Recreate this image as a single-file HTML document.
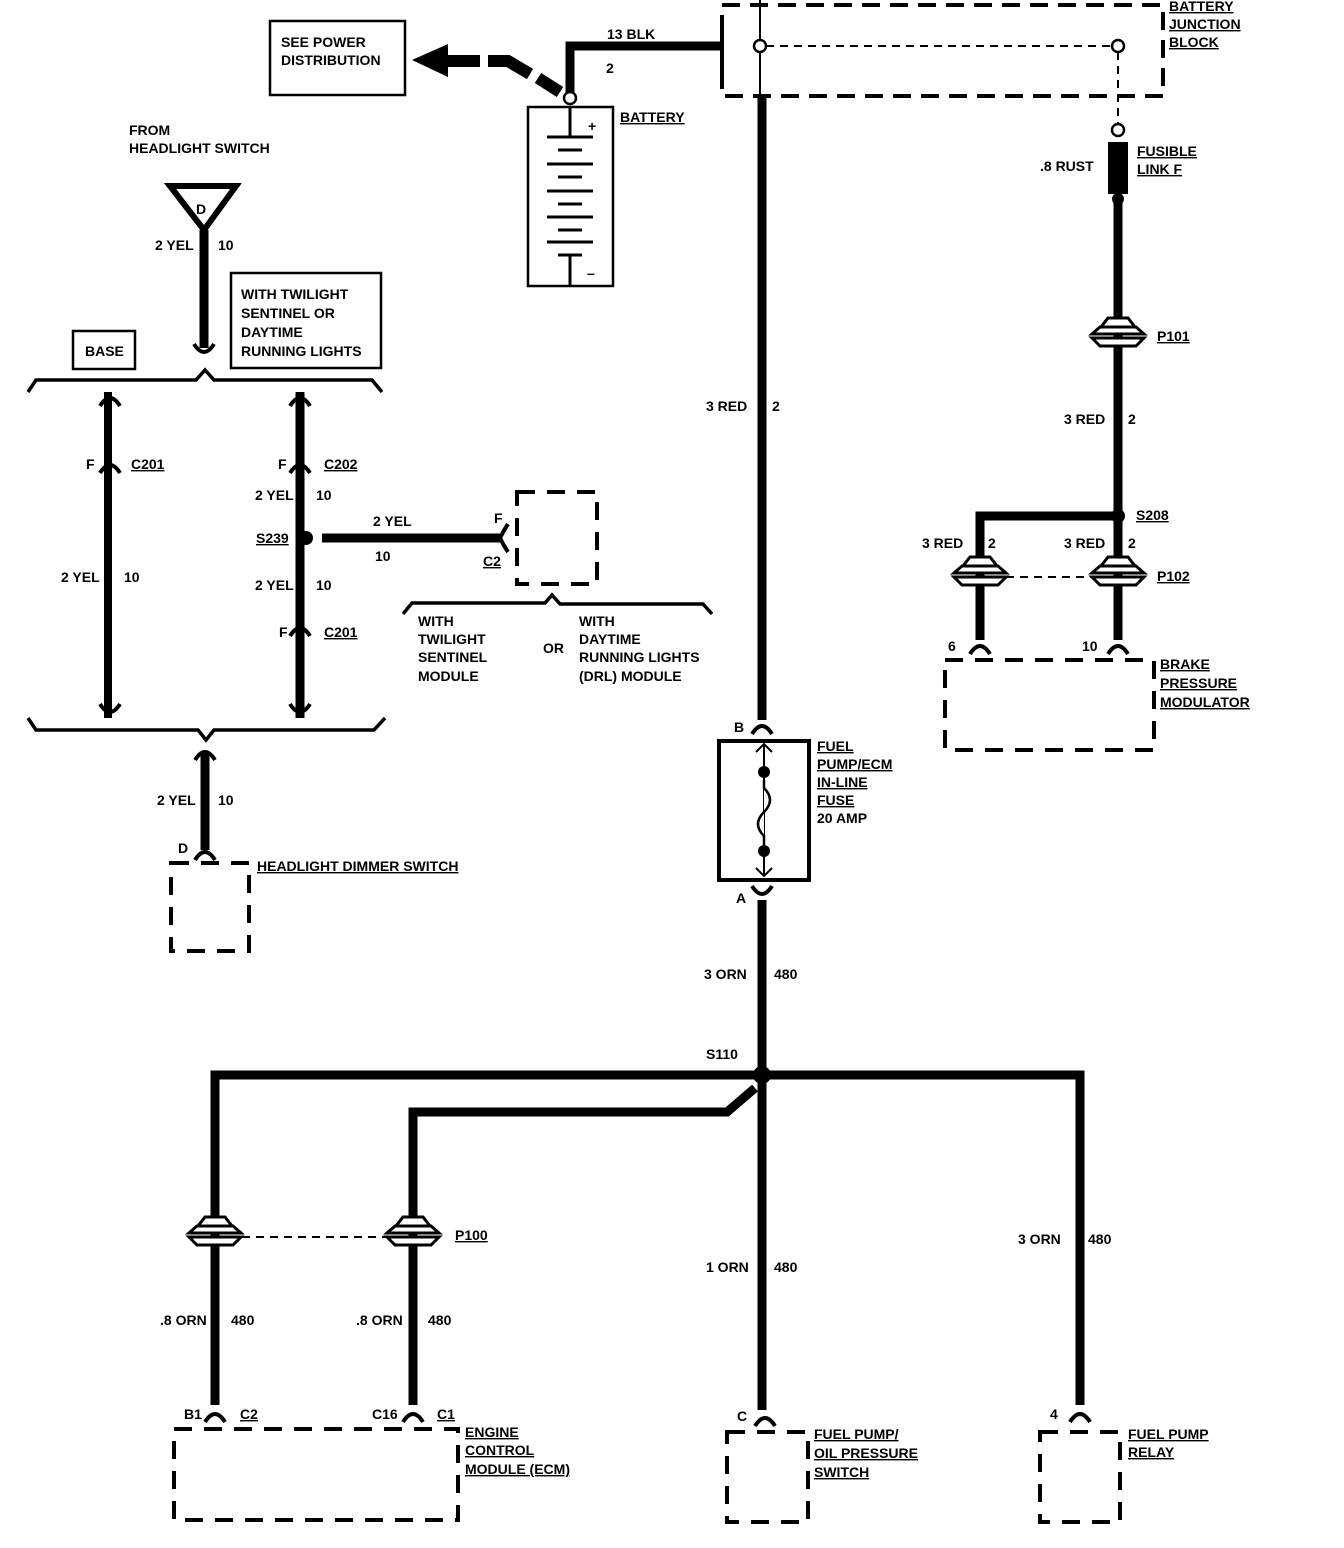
<!DOCTYPE html>
<html><head><meta charset="utf-8"><style>
html,body{margin:0;padding:0;background:#fff}
svg{display:block}
text{font-family:"Liberation Sans Narrow","Liberation Sans",sans-serif;font-weight:bold;font-size:14px;fill:#000}
.u{text-decoration:underline}
</style></head><body>
<svg width="1344" height="1548" viewBox="0 0 1344 1548" xmlns="http://www.w3.org/2000/svg">
<defs>
<g id="pc">
<path d="M-17,-9 L-10,-18 L10,-18 L17,-9 Z M-26,-2 L-18,-9 L18,-9 L26,-2 Z M-26,2 L-18,10 L18,10 L26,2 Z" fill="#fff" stroke="#000" stroke-width="3"/>
</g>
<path id="cu" d="M-10,8 Q0,-8 10,8" fill="none" stroke="#000" stroke-width="4"/>
<path id="cd" d="M-10,-8 Q0,8 10,-8" fill="none" stroke="#000" stroke-width="4"/>
</defs>
<g fill="none" stroke="#000">
<rect x="270" y="21" width="135" height="74" stroke-width="2.5"/>
<polygon points="412,60 448,44 448,77" fill="#000" stroke="none"/>
<line x1="446" y1="61" x2="480" y2="61" stroke-width="12"/>
<path d="M488,61 L508,61 L530,74" stroke-width="12"/>
<line x1="538" y1="78" x2="560" y2="92" stroke-width="12"/>
<path d="M570,98 L570,46 L722,46" stroke-width="9"/>
<circle cx="570" cy="98" r="6" fill="#fff" stroke-width="2.5"/>
<rect x="528" y="107" width="85" height="179" stroke-width="2.5"/>
<line x1="570" y1="107" x2="570" y2="137" stroke-width="3"/>
<g stroke-width="3">
<line x1="547" y1="137" x2="593" y2="137"/><line x1="558" y1="150" x2="582" y2="150"/>
<line x1="547" y1="164" x2="593" y2="164"/><line x1="558" y1="177" x2="582" y2="177"/>
<line x1="547" y1="191" x2="593" y2="191"/><line x1="558" y1="204" x2="582" y2="204"/>
<line x1="547" y1="217" x2="593" y2="217"/><line x1="558" y1="230" x2="582" y2="230"/>
<line x1="547" y1="242" x2="593" y2="242"/><line x1="558" y1="255" x2="582" y2="255"/>
<line x1="570" y1="255" x2="570" y2="286"/>
</g>
<rect x="722" y="5" width="441" height="91" stroke-width="4" stroke-dasharray="18,10"/>
<line x1="722" y1="18" x2="722" y2="72" stroke-width="4"/>
<line x1="760" y1="0" x2="760" y2="96" stroke-width="2"/>
<line x1="766" y1="46" x2="1112" y2="46" stroke-width="2" stroke-dasharray="8,6"/>
<circle cx="760" cy="46" r="6" fill="#fff" stroke-width="2.5"/>
<circle cx="1118" cy="46" r="6" fill="#fff" stroke-width="2.5"/>
<line x1="1118" y1="52" x2="1118" y2="124" stroke-width="2" stroke-dasharray="8,6"/>
<circle cx="1118" cy="130" r="6" fill="#fff" stroke-width="2.5"/>
<rect x="1108" y="142" width="20" height="52" fill="#000" stroke="none"/>
<circle cx="1118" cy="199" r="6" fill="#000" stroke="none"/>
<line x1="1118" y1="199" x2="1118" y2="516" stroke-width="9"/>
<circle cx="1118" cy="516" r="7" fill="#000" stroke="none"/>
<path d="M1118,516 L980,516 L980,640" stroke-width="9"/>
<line x1="1118" y1="516" x2="1118" y2="640" stroke-width="9"/>
<line x1="1006" y1="577" x2="1092" y2="577" stroke-width="2" stroke-dasharray="8,6"/>
<rect x="945" y="660" width="209" height="90" stroke-width="4" stroke-dasharray="18,12"/>
<line x1="762" y1="96" x2="762" y2="720" stroke-width="9"/>
<rect x="719" y="741" width="90" height="139" stroke-width="4"/>
<line x1="764" y1="745" x2="764" y2="876" stroke-width="2"/>
<path d="M756,752 L764,744 L772,752 M756,868 L764,876 L772,868" stroke-width="2"/>
<circle cx="764" cy="772" r="6" fill="#000" stroke="none"/>
<circle cx="764" cy="851" r="6" fill="#000" stroke="none"/>
<path d="M764,780 L764,788 Q776,800 764,812 Q752,824 764,836 L764,845" fill="#fff" stroke-width="2.5"/>
<line x1="762" y1="900" x2="762" y2="1410" stroke-width="9"/>
<circle cx="762" cy="1075" r="9" fill="#000" stroke="none"/>
<path d="M215,1405 L215,1075 L1080,1075 L1080,1405" stroke-width="9"/>
<path d="M755,1088 L727,1112 L413,1112 L413,1405" stroke-width="9"/>
<line x1="242" y1="1237" x2="386" y2="1237" stroke-width="2" stroke-dasharray="8,6"/>
<rect x="174" y="1429" width="284" height="91" stroke-width="4" stroke-dasharray="18,12"/>
<rect x="727" y="1432" width="81" height="90" stroke-width="4" stroke-dasharray="18,12"/>
<rect x="1040" y="1432" width="80" height="90" stroke-width="4" stroke-dasharray="18,12"/>
<polygon points="170,186 236,186 204,230" stroke-width="6" fill="#fff"/>
<line x1="204" y1="230" x2="204" y2="348" stroke-width="9"/>
<rect x="73" y="331" width="62" height="38" stroke-width="2.5"/>
<rect x="231" y="273" width="150" height="95" stroke-width="2.5"/>
<path d="M28,392 L36,380 L196,380 L205,370 L214,380 L372,380 L382,392" stroke-width="3.5"/>
<line x1="108" y1="392" x2="108" y2="718" stroke-width="8"/>
<line x1="300" y1="392" x2="300" y2="718" stroke-width="9"/>
<circle cx="306" cy="538" r="7" fill="#000" stroke="none"/>
<line x1="322" y1="538" x2="500" y2="538" stroke-width="9"/>
<path d="M500,538 Q504,530 508,524 M500,538 Q504,546 508,552" stroke-width="4"/>
<rect x="517" y="492" width="80" height="92" stroke-width="4" stroke-dasharray="18,12"/>
<path d="M403,614 L412,603 L545,603 L552,595 L560,604 L703,604 L712,614" stroke-width="3.5"/>
<path d="M28,718 L36,730 L198,730 L206,740 L214,730 L374,730 L385,718" stroke-width="3.5"/>
<line x1="205" y1="752" x2="205" y2="850" stroke-width="9"/>
<rect x="171" y="863" width="78" height="88" stroke-width="4" stroke-dasharray="18,12"/>
</g>
<use href="#cd" x="204" y="352"/>
<use href="#cu" x="110" y="398"/><use href="#cu" x="300" y="398"/>
<use href="#cu" x="110" y="465"/><use href="#cu" x="300" y="465"/><use href="#cu" x="300" y="628"/>
<use href="#cd" x="110" y="712"/><use href="#cd" x="300" y="712"/>
<use href="#cu" x="205" y="752"/><use href="#cu" x="205" y="852"/>
<use href="#cu" x="762" y="726"/><use href="#cd" x="762" y="894"/>
<use href="#cu" x="980" y="646"/><use href="#cu" x="1118" y="646"/>
<use href="#cu" x="215" y="1414"/><use href="#cu" x="413" y="1414"/><use href="#cu" x="765" y="1418"/><use href="#cu" x="1080" y="1414"/>
<use href="#pc" x="1118" y="336"/>
<use href="#pc" x="980" y="575"/><use href="#pc" x="1118" y="575"/>
<use href="#pc" x="215" y="1235"/><use href="#pc" x="413" y="1235"/>
<text x="281" y="47">SEE POWER</text><text x="281" y="65">DISTRIBUTION</text>
<text x="607" y="39">13 BLK</text><text x="606" y="73">2</text>
<text x="588" y="131" font-size="18">+</text><text x="587" y="278" font-size="18">–</text>
<text x="620" y="122" class="u">BATTERY</text>
<text x="1169" y="11" class="u">BATTERY</text><text x="1169" y="29" class="u">JUNCTION</text><text x="1169" y="47" class="u">BLOCK</text>
<text x="1137" y="156" class="u">FUSIBLE</text><text x="1137" y="174" class="u">LINK F</text>
<text x="1040" y="171">.8 RUST</text>
<text x="1157" y="341" class="u">P101</text>
<text x="1064" y="424">3 RED</text><text x="1128" y="424">2</text>
<text x="1136" y="520" class="u">S208</text>
<text x="922" y="548">3 RED</text><text x="988" y="548">2</text>
<text x="1064" y="548">3 RED</text><text x="1128" y="548">2</text>
<text x="1157" y="581" class="u">P102</text>
<text x="948" y="651">6</text><text x="1082" y="651">10</text>
<text x="1160" y="669" class="u">BRAKE</text><text x="1160" y="688" class="u">PRESSURE</text><text x="1160" y="707" class="u">MODULATOR</text>
<text x="706" y="411">3 RED</text><text x="772" y="411">2</text>
<text x="734" y="732">B</text><text x="736" y="903">A</text>
<text x="817" y="751" class="u">FUEL</text><text x="817" y="769" class="u">PUMP/ECM</text><text x="817" y="787" class="u">IN-LINE</text><text x="817" y="805" class="u">FUSE</text><text x="817" y="823">20 AMP</text>
<text x="704" y="979">3 ORN</text><text x="774" y="979">480</text>
<text x="706" y="1059">S110</text>
<text x="160" y="1325">.8 ORN</text><text x="231" y="1325">480</text>
<text x="356" y="1325">.8 ORN</text><text x="428" y="1325">480</text>
<text x="455" y="1240" class="u">P100</text>
<text x="706" y="1272">1 ORN</text><text x="774" y="1272">480</text>
<text x="1018" y="1244">3 ORN</text><text x="1088" y="1244">480</text>
<text x="184" y="1419">B1</text><text x="240" y="1419" class="u">C2</text>
<text x="372" y="1419">C16</text><text x="437" y="1419" class="u">C1</text>
<text x="737" y="1421">C</text><text x="1050" y="1419">4</text>
<text x="465" y="1437" class="u">ENGINE</text><text x="465" y="1455" class="u">CONTROL</text><text x="465" y="1474" class="u">MODULE (ECM)</text>
<text x="814" y="1439" class="u">FUEL PUMP/</text><text x="814" y="1458" class="u">OIL PRESSURE</text><text x="814" y="1477" class="u">SWITCH</text>
<text x="1128" y="1439" class="u">FUEL PUMP</text><text x="1128" y="1457" class="u">RELAY</text>
<text x="129" y="135">FROM</text><text x="129" y="153">HEADLIGHT SWITCH</text>
<text x="196" y="214" font-size="20">D</text>
<text x="155" y="250">2 YEL</text><text x="218" y="250">10</text>
<text x="85" y="356">BASE</text>
<text x="241" y="299">WITH TWILIGHT</text><text x="241" y="318">SENTINEL OR</text><text x="241" y="337">DAYTIME</text><text x="241" y="356">RUNNING LIGHTS</text>
<text x="86" y="469">F</text><text x="131" y="469" class="u">C201</text>
<text x="278" y="469">F</text><text x="324" y="469" class="u">C202</text>
<text x="255" y="500">2 YEL</text><text x="316" y="500">10</text>
<text x="256" y="543" class="u">S239</text>
<text x="373" y="526">2 YEL</text><text x="375" y="561">10</text>
<text x="494" y="523">F</text><text x="483" y="566" class="u">C2</text>
<text x="61" y="582">2 YEL</text><text x="124" y="582">10</text>
<text x="255" y="590">2 YEL</text><text x="316" y="590">10</text>
<text x="279" y="637">F</text><text x="324" y="637" class="u">C201</text>
<text x="418" y="626">WITH</text><text x="418" y="644">TWILIGHT</text><text x="418" y="662">SENTINEL</text><text x="418" y="681">MODULE</text>
<text x="543" y="653">OR</text>
<text x="579" y="626">WITH</text><text x="579" y="644">DAYTIME</text><text x="579" y="662">RUNNING LIGHTS</text><text x="579" y="681">(DRL) MODULE</text>
<text x="157" y="805">2 YEL</text><text x="218" y="805">10</text>
<text x="178" y="853">D</text>
<text x="257" y="871" class="u">HEADLIGHT DIMMER SWITCH</text>
</svg>
</body></html>
